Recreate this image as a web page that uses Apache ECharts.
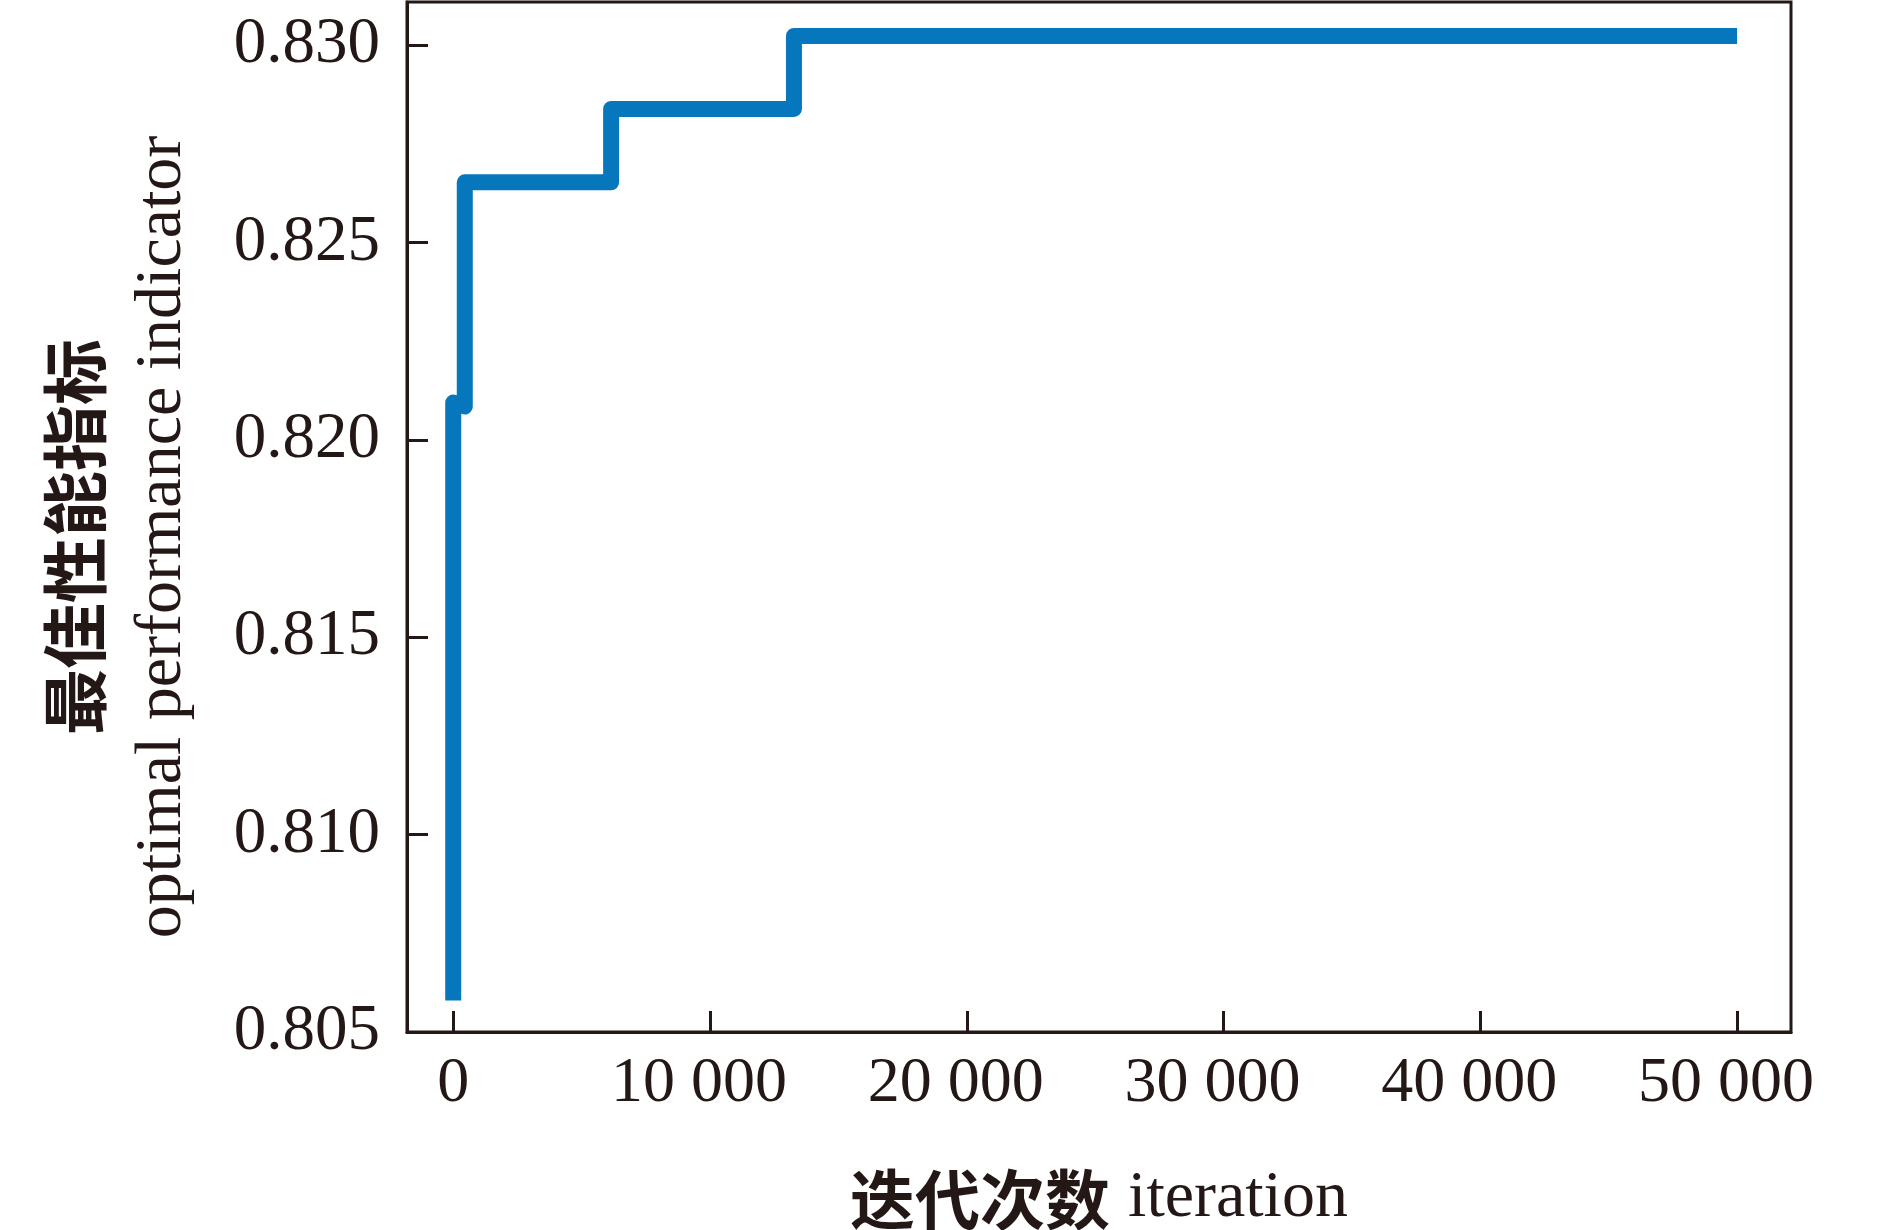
<!DOCTYPE html>
<html>
<head>
<meta charset="utf-8">
<script src="https://cdn.jsdelivr.net/npm/echarts@6/dist/echarts.min.js"></script>
<style>
html,body{margin:0;padding:0;background:#fff;}
#chart{width:1890px;height:1230px;}
</style>
</head>
<body>
<div id="chart"></div>
<script>
// data
var iterations = [0, 0, 450, 450, 6150, 6150, 13270, 13270, 50000];
var bestValues = [0.8058, 0.82095, 0.82085, 0.82653, 0.82653, 0.82839, 0.82839, 0.83024, 0.83024];
var xTicks = [0, 10000, 20000, 30000, 40000, 50000];
var yTicks = [0.805, 0.810, 0.815, 0.820, 0.825, 0.830];

var points = iterations.map(function (x, i) { return [x, bestValues[i]]; });
var ink = '#231815';
var serif = '"Liberation Serif","Times New Roman",serif';
var cjk = '"Noto Sans CJK SC",sans-serif';

var chart = echarts.init(document.getElementById('chart'));
chart.setOption({
  animation: false,
  backgroundColor: '#fff',
  grid: {
    left: 407, right: 99, top: 2, bottom: 198,
    outerBoundsMode: 'none',
    containLabel: false,
    show: true, borderColor: ink, borderWidth: 3, backgroundColor: 'transparent'
  },
  xAxis: {
    type: 'value',
    min: -1800, max: 52100,
    splitLine: { show: false },
    axisLine: { show: true, onZero: false, lineStyle: { color: ink, width: 3 } },
    axisTick: { show: true, inside: true, length: 21, lineStyle: { color: ink, width: 3 }, customValues: xTicks },
    axisLabel: {
      customValues: xTicks,
      margin: 20,
      color: ink,
      fontFamily: serif,
      fontSize: 64,
      formatter: function (v) {
        var s = String(v).replace(/\B(?=(\d{3})+(?!\d))/g, ' ');
        return v === 0 ? s : '{s|' + s + '}';
      },
      rich: {
        s: { fontFamily: serif, fontSize: 64, color: ink, padding: [0, 22, 0, 0] }
      }
    },
    name: '{cn|迭代次数}{en|iteration}',
    nameLocation: 'middle',
    nameGap: 134,
    nameTextStyle: {
      rich: {
        cn: { fontFamily: cjk, fontSize: 65, fontWeight: 'bold', color: ink, lineHeight: 66 },
        en: { fontFamily: serif, fontSize: 66, color: ink, lineHeight: 66, padding: [0, 0, 0, 18] }
      }
    }
  },
  yAxis: {
    type: 'value',
    min: 0.805, max: 0.8311,
    splitLine: { show: false },
    axisLine: { show: true, onZero: false, lineStyle: { color: ink, width: 3 } },
    axisTick: { show: true, inside: true, length: 21, lineStyle: { color: ink, width: 3 }, customValues: yTicks },
    axisLabel: {
      customValues: yTicks,
      margin: 27,
      color: ink,
      fontFamily: serif,
      fontSize: 65,
      formatter: function (v) { return v.toFixed(3); }
    },
    name: '{cn|最佳性能指标}\n{en|optimal performance indicator}',
    nameLocation: 'middle',
    nameRotate: 90,
    nameGap: 200,
    nameTextStyle: {
      padding: [0, 40, 0, 0],
      rich: {
        cn: { fontFamily: cjk, fontSize: 66, fontWeight: 'bold', color: ink, lineHeight: 88 },
        en: { fontFamily: serif, fontSize: 66, color: ink, lineHeight: 88 }
      }
    }
  },
  series: [{
    type: 'line',
    data: points,
    symbol: 'none',
    lineStyle: { color: '#0777BD', width: 16, cap: 'butt', join: 'round' },
    clip: false
  }]
});
</script>
</body>
</html>
